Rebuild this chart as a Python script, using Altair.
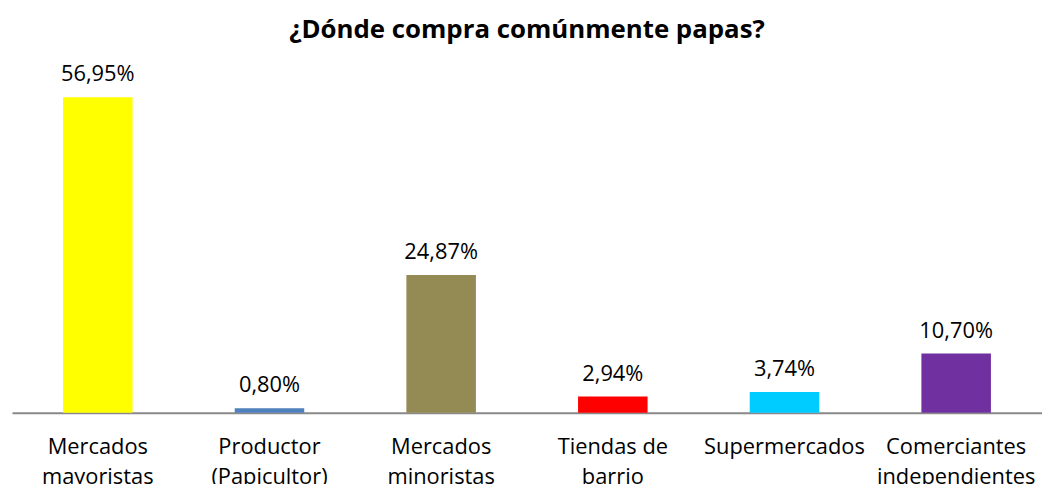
import altair as alt
import pandas as pd

categories = ["Mercados\nmayoristas", "Productor\n(Papicultor)", "Mercados\nminoristas",
              "Tiendas de\nbarrio", "Supermercados", "Comerciantes\nindependientes"]
values = [56.95, 0.80, 24.87, 2.94, 3.74, 10.70]
colors = ["#FFFF00", "#4F81BD", "#948A54", "#FF0000", "#00CCFF", "#7030A0"]

df = pd.DataFrame({"cat": categories, "value": values, "color": colors})

FONT = "Open Sans"

base = alt.Chart(df).encode(
    x=alt.X("cat:N", sort=categories,
            scale=alt.Scale(paddingInner=0.595, paddingOuter=0.2975),
            axis=alt.Axis(title=None, labelAngle=0, ticks=False, grid=False,
                          domainColor="#898989", domainWidth=2,
                          labelFontSize=22, labelFont=FONT, labelColor="#000000",
                          labelPadding=24, labelLineHeight=30,
                          labelExpr="split(datum.label, '\\n')")),
    y=alt.Y("value:Q", scale=alt.Scale(domain=[0, 60], nice=False), axis=None),
)

bars = base.mark_bar().encode(color=alt.Color("color:N", scale=None))

text = base.transform_calculate(
    lbl="replace(format(datum.value, '.2f'), '.', ',') + '%'"
).mark_text(baseline="bottom", dy=-11, fontSize=22, font=FONT, color="#000000").encode(
    text="lbl:N"
)

chart = (bars + text).properties(
    width=1038, height=335,
    autosize=alt.AutoSizeParams(type="none"),
    padding={"left": 4, "top": 71, "right": 0, "bottom": 70},
    title=alt.TitleParams("¿Dónde compra comúnmente papas?", fontSize=26, font=FONT,
                          fontWeight="bold", anchor="middle", offset=21, color="#000000"),
).configure_view(stroke=None)

chart.save("out.html", embed_options={"renderer": "svg", "actions": False})
